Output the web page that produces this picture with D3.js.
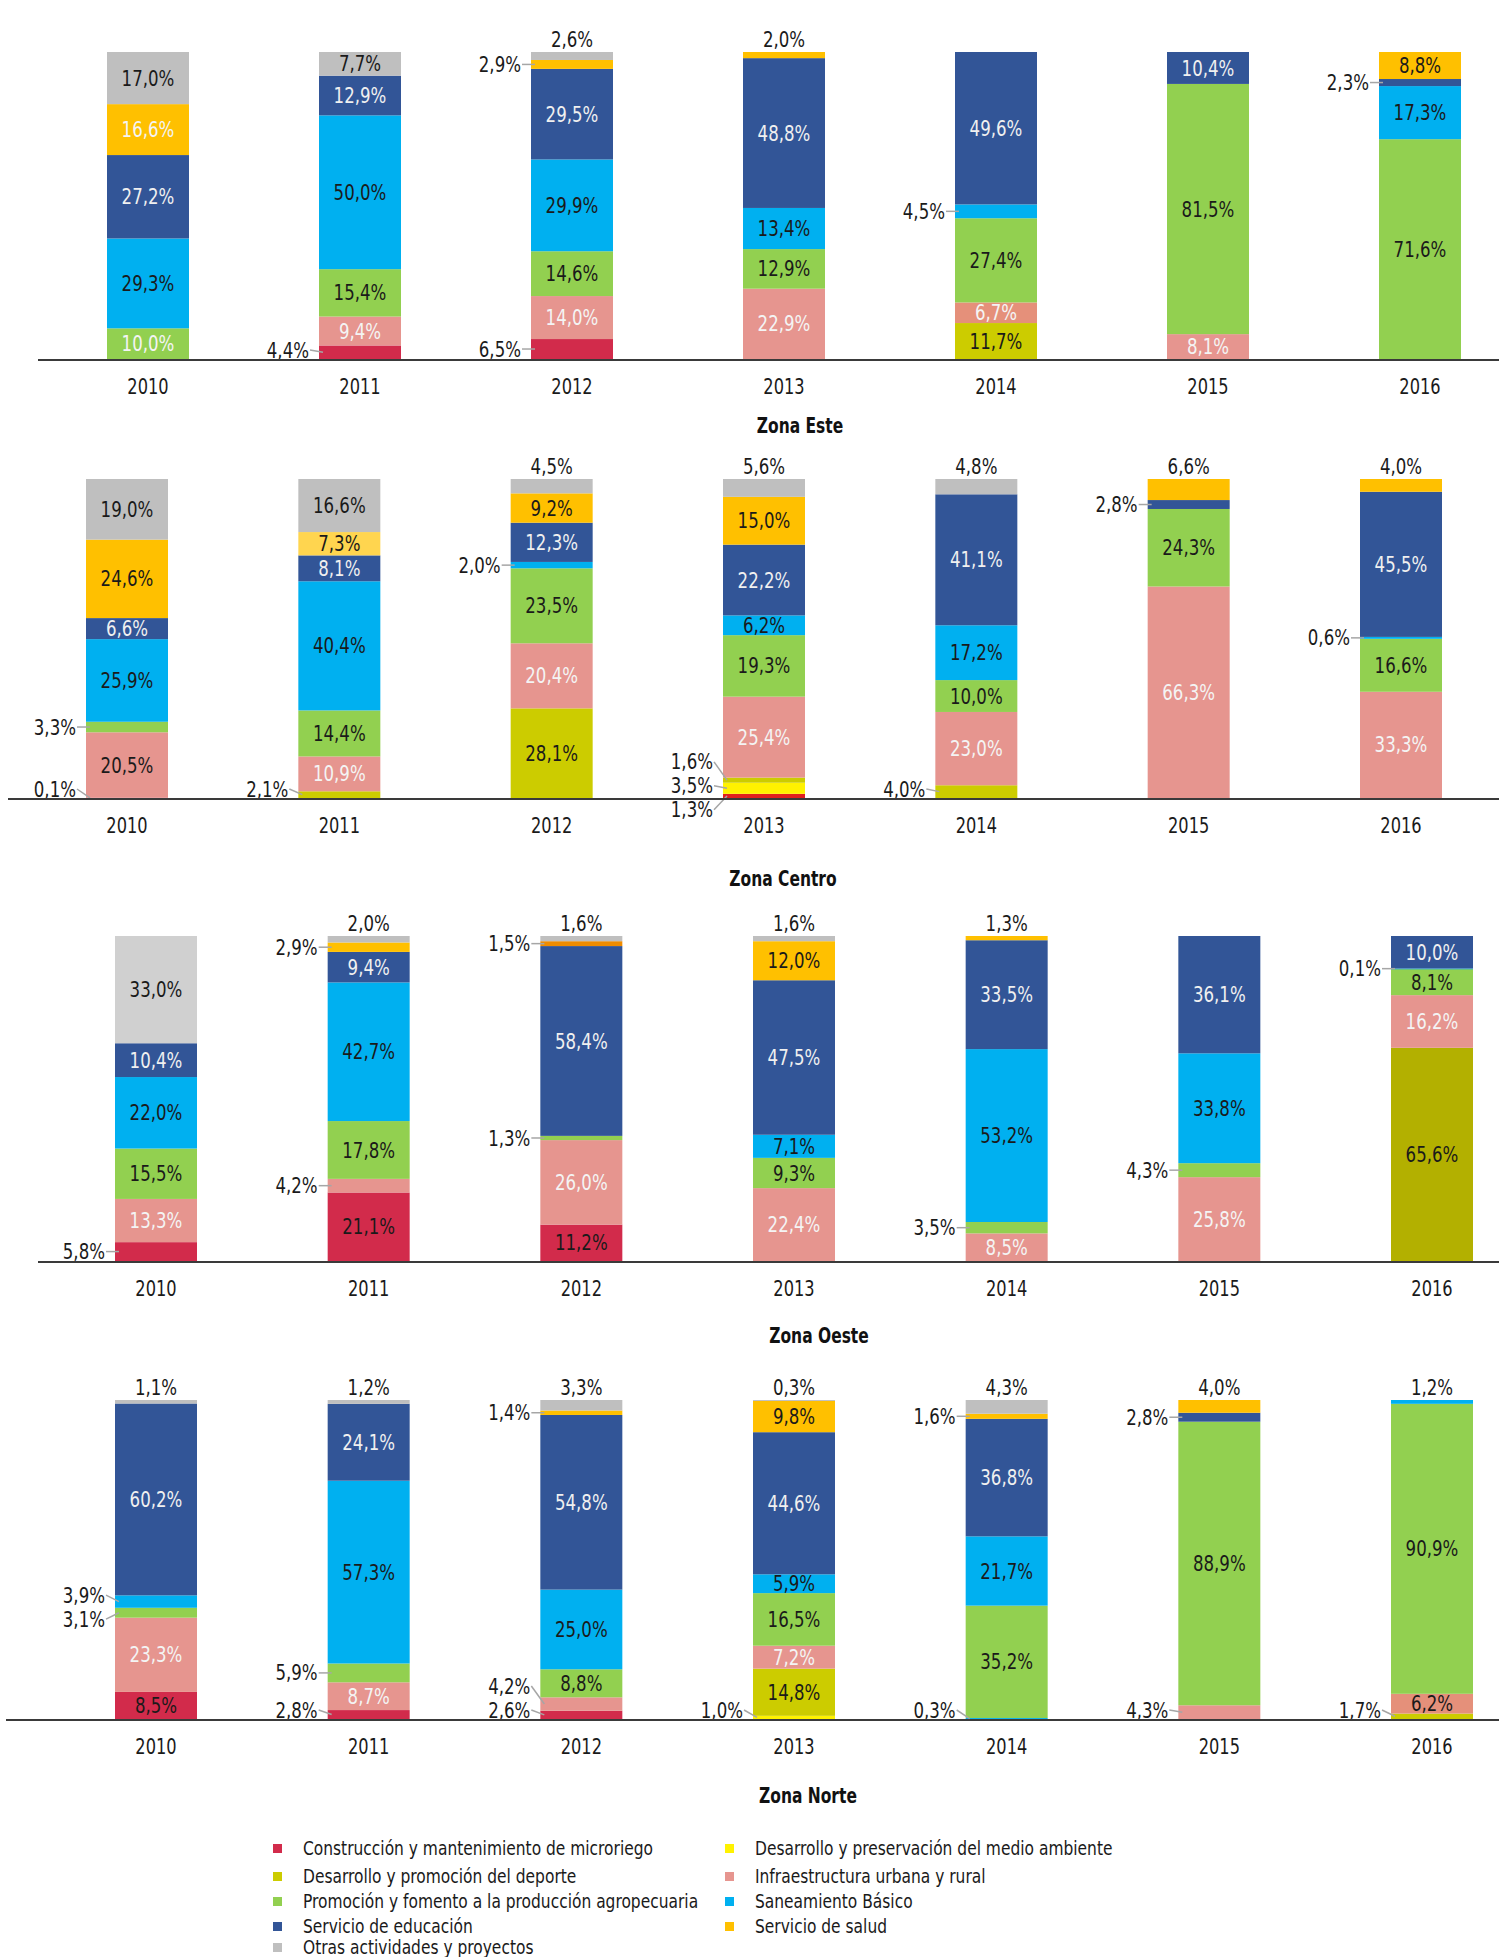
<!DOCTYPE html>
<html>
<head>
<meta charset="utf-8">
<script src="https://cdn.jsdelivr.net/npm/d3@7"></script>
<style>
  body { margin: 0; background: #fff; }
  svg text { font-family: "Liberation Sans Narrow", "DejaVu Sans Condensed", sans-serif; }
</style>
</head>
<body>
<svg id="chart" width="1499" height="1957"></svg>
<script>
"use strict";

var years = ["2010", "2011", "2012", "2013", "2014", "2015", "2016"];

// stacking order, bottom to top
var categories = [
  "Construcción y mantenimiento de microriego",
  "Desarrollo y preservación del medio ambiente",
  "Desarrollo y promoción del deporte",
  "Infraestructura urbana y rural",
  "Promoción y fomento a la producción agropecuaria",
  "Saneamiento Básico",
  "Servicio de educación",
  "Servicio de salud",
  "Otras actividades y proyectos"
];

// one row per year, one value (%) per category
var zonaEste = [
  [0, 0, 0, 0, 10.0, 29.3, 27.2, 16.6, 17.0],
  [4.4, 0, 0, 9.4, 15.4, 50.0, 12.9, 0, 7.7],
  [6.5, 0, 0, 14.0, 14.6, 29.9, 29.5, 2.9, 2.6],
  [0, 0, 0, 22.9, 12.9, 13.4, 48.8, 2.0, 0],
  [0, 0, 11.7, 6.7, 27.4, 4.5, 49.6, 0, 0],
  [0, 0, 0, 8.1, 81.5, 0, 10.4, 0, 0],
  [0, 0, 0, 0, 71.6, 17.3, 2.3, 8.8, 0]
];
var zonaCentro = [
  [0.1, 0, 0, 20.5, 3.3, 25.9, 6.6, 24.6, 19.0],
  [0, 0, 2.1, 10.9, 14.4, 40.4, 8.1, 7.3, 16.6],
  [0, 0, 28.1, 20.4, 23.5, 2.0, 12.3, 9.2, 4.5],
  [1.3, 3.5, 1.6, 25.4, 19.3, 6.2, 22.2, 15.0, 5.6],
  [0, 0, 4.0, 23.0, 10.0, 17.2, 41.1, 0, 4.8],
  [0, 0, 0, 66.3, 24.3, 0, 2.8, 6.6, 0],
  [0, 0, 0, 33.3, 16.6, 0.6, 45.5, 4.0, 0]
];
var zonaOeste = [
  [5.8, 0, 0, 13.3, 15.5, 22.0, 10.4, 0, 33.0],
  [21.1, 0, 0, 4.2, 17.8, 42.7, 9.4, 2.9, 2.0],
  [11.2, 0, 0, 26.0, 1.3, 0, 58.4, 1.5, 1.6],
  [0, 0, 0, 22.4, 9.3, 7.1, 47.5, 12.0, 1.6],
  [0, 0, 0, 8.5, 3.5, 53.2, 33.5, 1.3, 0],
  [0, 0, 0, 25.8, 4.3, 33.8, 36.1, 0, 0],
  [0, 0, 65.6, 16.2, 8.1, 0.1, 10.0, 0, 0]
];
var zonaNorte = [
  [8.5, 0, 0, 23.3, 3.1, 3.9, 60.2, 0, 1.1],
  [2.8, 0, 0, 8.7, 5.9, 57.3, 24.1, 0, 1.2],
  [2.6, 0, 0, 4.2, 8.8, 25.0, 54.8, 1.4, 3.3],
  [0, 1.0, 14.8, 7.2, 16.5, 5.9, 44.6, 9.8, 0.3],
  [0, 0.3, 0, 0, 35.2, 21.7, 36.8, 1.6, 4.3],
  [0, 0, 0, 4.3, 88.9, 0, 2.8, 4.0, 0],
  [0, 0, 1.7, 6.2, 90.9, 1.2, 0, 0, 0]
];

var colors = ["#d22b4b", "#fff200", "#cccc00", "#e6958f", "#92d050", "#00b0f0", "#325597", "#ffc000", "#bfbfbf"];
var textColors = ["#1a1a1a", "#1a1a1a", "#1a1a1a", "#f4f4f4", "#1a1a1a", "#1a1a1a", "#f0f0f0", "#1a1a1a", "#1a1a1a"];

// a few cells in the original are shaded differently
var colorOverride = {
  "0|2014|3": "#e5907a",
  "1|2011|7": "#ffd54f",
  "1|2013|0": "#e0201e",
  "2|2010|8": "#d0d0d0",
  "2|2012|7": "#f08c00",
  "2|2016|2": "#b3b000",
  "3|2014|1": "#00b0f0",
  "3|2016|3": "#e5907a"
};
var textOverride = {
  "0|2010|4": "#f4f4f4",
  "0|2010|7": "#f4f4f4",
  "1|2010|3": "#1a1a1a",
  "3|2016|3": "#1a1a1a"
};
var labelOverride = {
  "0|2012|0": "left",
  "3|2011|4": "left",
  "1|2015|7": "top"
};

var panels = [
  { title: "Zona Este", data: zonaEste, top: 52, bottom: 359, x0: 148, x1: 1420, axisStart: 38, titleX: 800, titleY: 426 },
  { title: "Zona Centro", data: zonaCentro, top: 479, bottom: 798, x0: 127, x1: 1401, axisStart: 8, titleX: 783, titleY: 879 },
  { title: "Zona Oeste", data: zonaOeste, top: 936, bottom: 1261, x0: 156, x1: 1432, axisStart: 38, titleX: 819, titleY: 1336 },
  { title: "Zona Norte", data: zonaNorte, top: 1400, bottom: 1719, x0: 156, x1: 1432, axisStart: 6, titleX: 808, titleY: 1796 }
];

var barWidth = 82;
var labelSize = 22;
var labelGap = 24;
var squeeze = 0.84; // the original face is a condensed one
var svg = d3.select("#chart");
var fmt = d3.format(".1f");

function pct(v) {
  return fmt(v).replace(".", ",") + "%";
}

function addText(parent, x, y, str, o) {
  o = o || {};
  return parent.append("text")
    .attr("transform", "translate(" + x + "," + y + ") scale(" + (o.sx || squeeze) + ",1)")
    .attr("text-anchor", o.anchor || "middle")
    .attr("dominant-baseline", o.baseline || "central")
    .attr("font-size", o.size || labelSize)
    .attr("font-weight", o.weight || null)
    .attr("fill", o.fill || "#1a1a1a")
    .text(str);
}

panels.forEach(function (p, pi) {
  var g = svg.append("g");
  var x = d3.scalePoint().domain(years).range([p.x0, p.x1]);
  var y = d3.scaleLinear().domain([0, 1]).range([p.bottom, p.top]);

  var series = d3.stack()
    .keys(d3.range(categories.length))
    .value(function (d, k) { return d[k]; })
    .offset(d3.stackOffsetExpand)(p.data);

  years.forEach(function (yr, i) {
    var cx = x(yr);
    var left = cx - barWidth / 2;
    var row = p.data[i];
    var topK = -1;
    row.forEach(function (v, k) { if (v > 0) topK = k; });
    var leftLabels = [];

    row.forEach(function (v, k) {
      if (!(v > 0)) return;
      var key = pi + "|" + yr + "|" + k;
      var s = series[k][i];
      var y0 = y(s[0]), y1 = y(s[1]);

      g.append("rect")
        .attr("x", left)
        .attr("y", y1)
        .attr("width", barWidth)
        .attr("height", Math.max(y0 - y1, 0.8))
        .attr("fill", colorOverride[key] || colors[k]);

      var pos = labelOverride[key] || (v >= 5.85 ? "in" : (k === topK ? "top" : "left"));
      if (pos === "in") {
        addText(g, cx, (y0 + y1) / 2, pct(v), { fill: textOverride[key] || textColors[k] });
      } else if (pos === "top") {
        addText(g, cx, y1 - 5, pct(v), { baseline: "alphabetic" });
      } else {
        var mid = (y0 + y1) / 2;
        leftLabels.push({ v: v, target: mid, y: Math.min(mid, p.bottom - 9) });
      }
    });

    // spread out outside labels that would overlap
    leftLabels.sort(function (a, b) { return a.y - b.y; });
    for (var it = 0; it < 60; it++) {
      for (var j = 1; j < leftLabels.length; j++) {
        var diff = leftLabels[j].y - leftLabels[j - 1].y;
        if (diff < labelGap) {
          var d = (labelGap - diff) / 2;
          leftLabels[j - 1].y -= d;
          leftLabels[j].y += d;
        }
      }
    }
    // a pair near the baseline is lifted clear of it
    var nearBase = leftLabels.filter(function (l) { return l.y > p.bottom - 60; });
    if (nearBase.length && nearBase.length <= 2) {
      var over = nearBase[nearBase.length - 1].y - (p.bottom - 9);
      if (over > 0) nearBase.forEach(function (l) { l.y -= over; });
    }

    leftLabels.forEach(function (l) {
      g.append("line")
        .attr("x1", left - 9)
        .attr("y1", l.y)
        .attr("x2", left + 4)
        .attr("y2", l.target)
        .attr("stroke", "#a6a6a6")
        .attr("stroke-width", 1.5);
      addText(g, left - 10, l.y, pct(l.v), { anchor: "end" });
    });

    addText(g, cx, p.bottom + 27, yr, { sx: 0.82 });
  });

  g.append("line")
    .attr("x1", p.axisStart)
    .attr("x2", 1499)
    .attr("y1", p.bottom + 1)
    .attr("y2", p.bottom + 1)
    .attr("stroke", "#3a3a3a")
    .attr("stroke-width", 2);

  addText(g, p.titleX, p.titleY, p.title, { size: 21, weight: "bold", sx: 0.82, fill: "#111" });
});

// legend: two columns, filled row by row
var legendRowsY = [1848, 1876, 1901, 1926, 1947];
var legend = svg.append("g");
categories.forEach(function (c, k) {
  var col = k % 2, row = Math.floor(k / 2);
  var lx = col === 0 ? 273 : 725;
  var ly = legendRowsY[row];
  legend.append("rect")
    .attr("x", lx)
    .attr("y", ly - 4)
    .attr("width", 9)
    .attr("height", 9)
    .attr("fill", colors[k]);
  addText(legend, lx + 30, ly, c, { anchor: "start", size: 20, sx: 0.86 });
});
</script>
</body>
</html>
